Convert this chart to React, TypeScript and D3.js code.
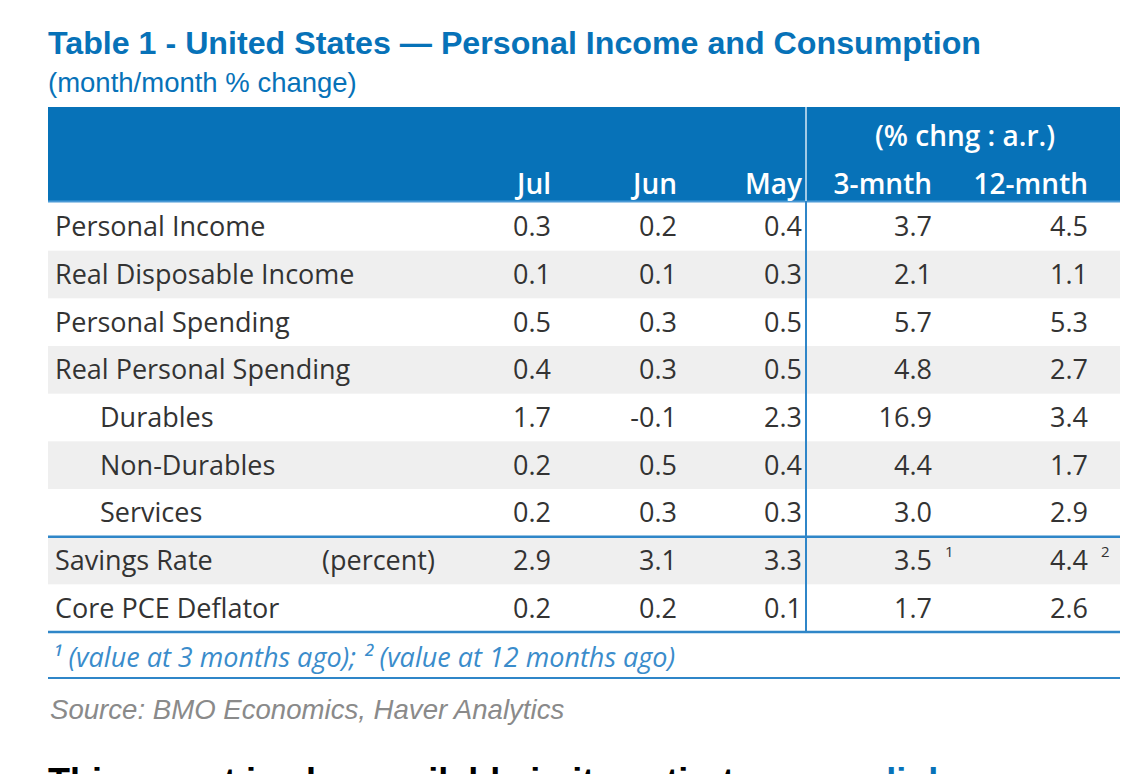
import React from "react";
import * as d3 from "d3";

const title = "Table 1 - United States — Personal Income and Consumption";
const subtitle = "(month/month % change)";
const groupHeader = "(% chng : a.r.)";
const columns = ["Jul", "Jun", "May", "3-mnth", "12-mnth"];
const labels = [
  "Personal Income",
  "Real Disposable Income",
  "Personal Spending",
  "Real Personal Spending",
  "Durables",
  "Non-Durables",
  "Services",
  "Savings Rate",
  "Core PCE Deflator",
];
const indented = ["Durables", "Non-Durables", "Services"];
const jul = ["0.3", "0.1", "0.5", "0.4", "1.7", "0.2", "0.2", "2.9", "0.2"];
const jun = ["0.2", "0.1", "0.3", "0.3", "-0.1", "0.5", "0.3", "3.1", "0.2"];
const may = ["0.4", "0.3", "0.5", "0.5", "2.3", "0.4", "0.3", "3.3", "0.1"];
const m3 = ["3.7", "2.1", "5.7", "4.8", "16.9", "4.4", "3.0", "3.5", "1.7"];
const m12 = ["4.5", "1.1", "5.3", "2.7", "3.4", "1.7", "2.9", "4.4", "2.6"];
const superscripts: Record<string, string[]> = {
  "3-mnth": ["", "", "", "", "", "", "", "1", ""],
  "12-mnth": ["", "", "", "", "", "", "", "2", ""],
};
const savingsNote = "(percent)";
const footnote = "¹ (value at 3 months ago); ² (value at 12 months ago)";
const source = "Source: BMO Economics, Haver Analytics";
const bottomText = "This report is also available in its entirety on our ";
const bottomLink = "link";

const W = 1140;
const H = 774;
const BLUE = "#0772b8";
const LINE = "#2f86c8";
const TEXT = "#333333";
const BODY_FONT = "'Open Sans', 'Noto Sans', sans-serif";
const SANS = "'Liberation Sans', Arial, sans-serif";

export default function App() {
  const left = 48;
  const right = 1120;
  const headerTop = 107;
  const headerBottom = 201;
  const bodyTop = 203;
  const bodyBottom = 632;
  const dividerX = 806;

  const y = d3.scaleBand<string>().domain(labels).range([bodyTop, bodyBottom]).paddingInner(0);
  const colRight = d3
    .scaleOrdinal<string, number>()
    .domain(columns)
    .range([551, 677, 802, 932, 1088]);
  const values: Record<string, string[]> = {
    Jul: jul,
    Jun: jun,
    May: may,
    "3-mnth": m3,
    "12-mnth": m12,
  };
  const bw = y.bandwidth();
  const savingsY = y("Savings Rate")!;

  return (
    <svg
      width={W}
      height={H}
      style={{ position: "absolute", left: 0, top: 0, background: "#fff" }}
    >
      <rect x={0} y={0} width={W} height={H} fill="#fff" />
      <text x={48} y={54} fill={BLUE} fontFamily={SANS} fontWeight="bold" fontSize={32.2}>
        {title}
      </text>
      <text x={48} y={92} fill={BLUE} fontFamily={SANS} fontSize={27.5}>
        {subtitle}
      </text>

      {/* header */}
      <rect x={left} y={headerTop} width={right - left} height={headerBottom - headerTop} fill={BLUE} />
      <line x1={left} x2={right} y1={headerBottom + 0.5} y2={headerBottom + 0.5} stroke="#4a9ad6" strokeWidth={2} />
      <line x1={dividerX} x2={dividerX} y1={headerTop} y2={headerBottom} stroke="#d6e8f6" strokeWidth={1.5} />
      <text
        x={965}
        y={146}
        textAnchor="middle"
        fill="#fff"
        fontFamily={BODY_FONT}
        fontWeight={600}
        fontSize={28}
      >
        {groupHeader}
      </text>
      {columns.map((c) => (
        <text
          key={c}
          x={colRight(c)}
          y={194}
          textAnchor="end"
          fill="#fff"
          fontFamily={BODY_FONT}
          fontWeight={600}
          fontSize={28}
        >
          {c}
        </text>
      ))}

      {/* body stripes */}
      {labels.map((l, i) =>
        i % 2 === 1 ? (
          <rect key={"s" + l} x={left} y={y(l)!} width={right - left} height={bw} fill="#efefef" />
        ) : null
      )}

      {/* body text */}
      {labels.map((l, i) => {
        const cy = y(l)! + bw / 2 + 9.5;
        return (
          <g key={l} fontFamily={BODY_FONT} fontSize={27} fill={TEXT}>
            <text x={indented.includes(l) ? 100 : 55} y={cy}>
              {l}
            </text>
            {l === "Savings Rate" ? (
              <text x={322} y={cy}>
                {savingsNote}
              </text>
            ) : null}
            {columns.map((c) => (
              <text key={c} x={colRight(c)} y={cy} textAnchor="end">
                {values[c][i]}
              </text>
            ))}
            {columns.map((c) =>
              superscripts[c] && superscripts[c][i] ? (
                <text key={"sup" + c} x={colRight(c) + 13} y={cy - 13} fontSize={15}>
                  {superscripts[c][i]}
                </text>
              ) : null
            )}
          </g>
        );
      })}

      {/* lines */}
      <line x1={dividerX} x2={dividerX} y1={headerBottom} y2={bodyBottom} stroke={LINE} strokeWidth={2} />
      <line x1={left} x2={right} y1={savingsY} y2={savingsY} stroke={LINE} strokeWidth={2.5} />
      <line x1={left} x2={right} y1={bodyBottom} y2={bodyBottom} stroke={LINE} strokeWidth={2.5} />

      <text x={52} y={667} fill="#3a8ccb" fontFamily={BODY_FONT} fontStyle="italic" fontSize={27}>
        {footnote}
      </text>
      <line x1={left} x2={right} y1={678} y2={678} stroke={LINE} strokeWidth={2} />

      <text x={50} y={719} fill="#8a8a8a" fontFamily={SANS} fontStyle="italic" fontSize={27.6}>
        {source}
      </text>

      <text x={48} y={794} fill="#000" fontFamily={SANS} fontWeight="bold" fontSize={36}>
        {bottomText}
        <tspan fill={BLUE}>{bottomLink}</tspan>
      </text>
    </svg>
  );
}
